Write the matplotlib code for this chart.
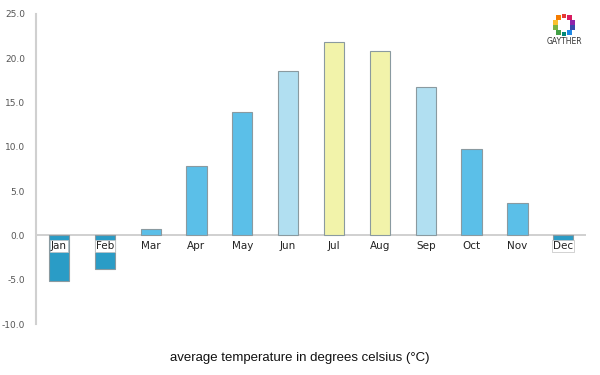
import numpy as np
import matplotlib
matplotlib.use('Agg')
import matplotlib.pyplot as plt

months = ['Jan', 'Feb', 'Mar', 'Apr', 'May', 'Jun',
          'Jul', 'Aug', 'Sep', 'Oct', 'Nov', 'Dec']
temps = [-5.1, -3.8, 0.7, 7.8, 13.9, 18.5, 21.8, 20.8, 16.7, 9.7, 3.7, -0.6]
yticks = [-10.0, -5.0, 0.0, 5.0, 10.0, 15.0, 20.0, 25.0]
title = 'average temperature in degrees celsius (°C)'

# colour per season
cold, mild, warm, hot = '#2a9cc6', '#5bbfe8', '#b1dff1', '#f2f3aa'
colors = [cold, cold, mild, mild, mild, warm, hot, hot, warm, mild, mild, cold]

fig = plt.figure(figsize=(6, 3.75), dpi=100)
ax = fig.add_axes([0.06, 0.136, 0.917, 0.827])

x = np.arange(len(months))
ax.bar(x, temps, width=0.44, color=colors, edgecolor='#8a9aa0', linewidth=0.8, zorder=2)
ax.axhline(0, color='#c8c8c8', linewidth=1.2, zorder=1)

ax.set_xlim(-0.5, 11.5)
ax.set_ylim(-10, 25)
ax.set_yticks(yticks)
ax.set_yticklabels(['%.1f' % t for t in yticks], fontsize=6.5, color='#555555')
ax.tick_params(axis='y', length=0, pad=8)
ax.set_xticks([])
for s in ['top', 'right', 'bottom']:
    ax.spines[s].set_visible(False)
ax.spines['left'].set_color('#d0d0d0')
ax.spines['left'].set_linewidth(1.5)

for i, m in enumerate(months):
    box = None
    if temps[i] < -0.3:
        box = dict(boxstyle='square,pad=0.1', facecolor='white', edgecolor='#c0c0c0', linewidth=0.5)
    ax.text(x[i], -1.2, m, ha='center', va='center', fontsize=7.5, color='#222222',
            bbox=box, zorder=3)

fig.text(0.5, 0.045, title, ha='center', va='center', fontsize=9.5,
         family='Liberation Sans', color='#111111')

# small logo in the top-right corner, drawn in pixel space
logo = fig.add_axes([0, 0, 1, 1], facecolor='none')
logo.set_xlim(0, 600)
logo.set_ylim(375, 0)
logo.axis('off')
logo_cols = ['#e53935', '#f57c00', '#fbc02d', '#7cb342', '#43a047', '#00897b',
             '#1e88e5', '#3949ab', '#8e24aa', '#d81b60']
ang = np.linspace(0, 2 * np.pi, len(logo_cols), endpoint=False) + np.pi / 2
logo.scatter(564 + 9 * np.cos(ang), 25 - 9 * np.sin(ang), s=12, c=logo_cols, marker='s', linewidths=0)
logo.text(564, 41, 'GAYTHER', ha='center', va='center', fontsize=5.5, color='#333333')

fig.savefig('out.png', dpi=100)
